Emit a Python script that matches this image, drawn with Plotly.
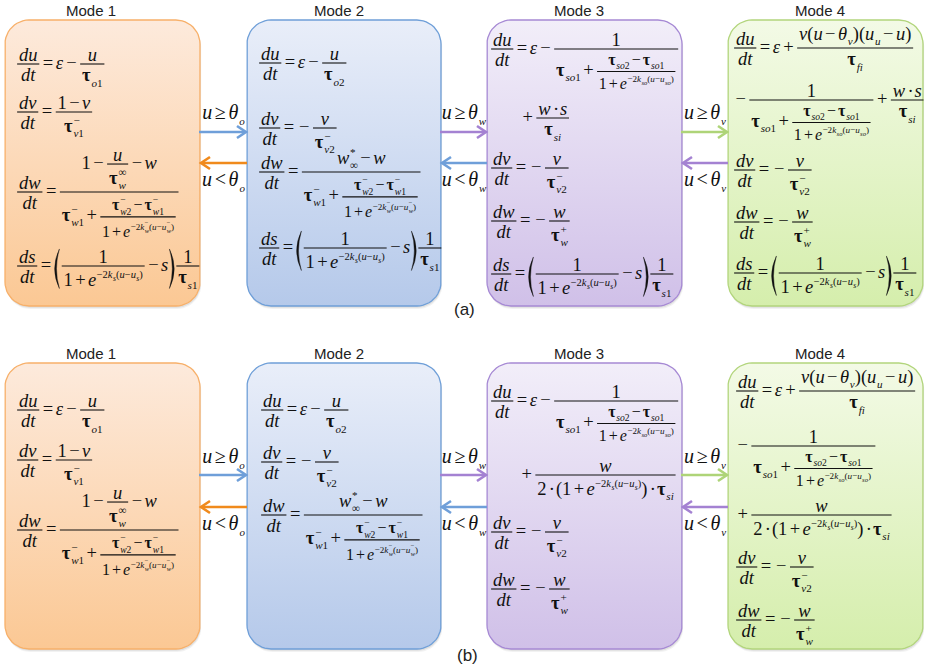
import math
import plotly.graph_objects as go

# ---------------- diagram content ----------------
MODE_TITLES = ["Mode 1", "Mode 2", "Mode 3", "Mode 4"]
TITLE_X = [91, 339, 579, 820]
PANEL_TAGS = ["(a)", "(b)"]
TAG_POS = [(464, 309), (467, 655)]
GUARDS = ["o", "w", "v"]            # threshold subscripts of the transitions 1<->2, 2<->3, 3<->4

BOX_LEFT = [5, 247, 487, 728]
BOX_RIGHT = [200, 441, 682, 923]
PANEL_TOP = [20, 363]
PANEL_BOTTOM = [306, 649]
FILL_TOP = ["#fdeadc", "#e9eef9", "#f2eef9", "#f3fae6"]
FILL_BOTTOM = ["#fbc894", "#b5c9ea", "#d0c0e8", "#d5eeac"]
EDGE = ["#f7b06a", "#6f9fd8", "#a689d4", "#b2d57c"]
ARROW_FWD = ["#6f9fd9", "#a482d2", "#aed478"]
ARROW_BWD = ["#f08a1c", "#6f9fd9", "#a482d2"]
INK = "#111111"

# equations of every mode: (equation key, left x, y of its first fraction bar)
EQ_A = [
    [("du_o1", 16, 64), ("dv_1", 16, 112), ("dw_1", 16, 192), ("ds", 16, 266)],
    [("du_o2", 258, 63), ("dv_2", 258, 128), ("dw_2", 258, 172), ("ds", 258, 248)],
    [("du_3", 490, 49), ("plus_ws", 520, 118), ("dv_2", 490, 168), ("dw_3", 490, 221), ("ds", 490, 274)],
    [("du_4", 733, 48), ("minus_so_ws", 733, 100), ("dv_2", 733, 170), ("dw_3", 733, 222), ("ds", 733, 273)],
]
EQ_B = [
    [("du_o1", 16, 410), ("dv_1", 16, 460), ("dw_1", 16, 530)],
    [("du_o2", 260, 410), ("dv_2", 260, 462), ("dw_2", 260, 515)],
    [("du_3", 490, 401), ("plus_w2", 519, 475), ("dv_2", 490, 532), ("dw_3", 490, 589)],
    [("du_4", 735, 391), ("minus_so", 735, 446), ("plus_w2", 735, 515), ("dv_2", 735, 567), ("dw_3", 735, 620)],
]

# ---------------- small math typesetter ----------------
S, S2 = 18.5, 16.0
AXIS = 0.27
PAD = 0.13
EXP = 0.57

TX, TY, TT, TZ = [], [], [], []
BARS = []
PARENS = []

RM = {' ': .25, '(': .333, ')': .333, '+': .564, '=': .564, '−': .564, '·': .25,
      '<': .564, '≥': .549, '∞': .713, '*': .5, 'τ': .47}
for _d in "0123456789":
    RM[_d] = .5
IT = dict(a=.5, b=.5, c=.444, d=.5, e=.444, f=.278, g=.5, h=.5, i=.278, j=.278, k=.444,
          l=.278, m=.722, n=.5, o=.5, p=.5, q=.5, r=.389, s=.389, t=.278, u=.5, v=.444,
          w=.667, x=.444, y=.444, z=.389)
IT['ε'] = .44
IT['θ'] = .5


def cw(c):
    return IT.get(c, RM.get(c, .5))


def html(s):
    out, run = [], ""
    for c in s:
        if c in IT:
            run += c
            continue
        if run:
            out.append("<i>%s</i>" % run)
            run = ""
        if c == "<":
            out.append("&lt;")
        elif c == "τ":
            out.append("<b>τ</b>")
        else:
            out.append(c)
    if run:
        out.append("<i>%s</i>" % run)
    return "".join(out)


class Txt:
    def __init__(self, s, z, lp=0.0, rp=0.0):
        self.s, self.z, self.lp = s, z, lp
        self.w = lp + rp + z * sum(cw(c) for c in s)
        self.asc, self.desc = .68 * z, .04 * z

    def draw(self, x, b):
        TX.append(x + self.lp)
        TY.append(b - .25 * self.z)
        TT.append(html(self.s))
        TZ.append(self.z)


class Row:
    def __init__(self, *items):
        self.items = items
        self.w = sum(i.w for i in items)
        self.asc = max(i.asc for i in items)
        self.desc = max(i.desc for i in items)

    def draw(self, x, b):
        for it in self.items:
            it.draw(x, b)
            x += it.w


class Frac:
    def __init__(self, num, den, z):
        self.num, self.den = num, den
        self.ext, self.side = .1 * z, .06 * z
        self.bw = max(num.w, den.w) + 2 * self.ext
        self.w = self.bw + 2 * self.side
        self.ax, self.gn, self.gd = AXIS * z, .12 * z, .26 * z
        self.asc = self.ax + self.gn + num.desc + num.asc
        self.desc = self.gd + den.asc + den.desc - self.ax

    def draw(self, x, b):
        y = b - self.ax
        x0 = x + self.side
        BARS.append((x0, x0 + self.bw, y))
        self.num.draw(x0 + (self.bw - self.num.w) / 2, y - self.gn - self.num.desc)
        self.den.draw(x0 + (self.bw - self.den.w) / 2, y + self.gd + self.den.asc)


class Script:
    def __init__(self, base, sub=None, sup=None, dn=.28, up=.42, gap=.04):
        z = base.z
        self.base, self.sub, self.sup = base, sub, sup
        self.dn, self.up, self.g = dn * z, up * z, gap * z
        self.w = base.w + self.g + max(sub.w if sub else 0, sup.w if sup else 0)
        self.asc = max(base.asc, (sup.asc + self.up) if sup else 0)
        self.desc = max(base.desc, (sub.desc + self.dn) if sub else 0)

    def draw(self, x, b):
        self.base.draw(x, b)
        xs = x + self.base.w + self.g
        if self.sub:
            self.sub.draw(xs, b + self.dn)
        if self.sup:
            self.sup.draw(xs, b - self.up)


class Paren:
    def __init__(self, side, asc, desc, w=7.0):
        self.side, self.asc, self.desc, self.w = side, asc, desc, w

    def draw(self, x, b):
        PARENS.append((x, b - self.asc, b + self.desc, self.side, self.w))


def T(s, z=S):
    return Txt(s, z)


def O(s, z=S):
    return Txt(s, z, PAD * z, PAD * z)


def R(*items):
    return Row(*items)


def F(n, d, z=S):
    return Frac(n, d, z)


def D(var):
    return F(T("d" + var), T("dt"))


def tau(sub, z=S, sup=None):
    return Script(T("τ", z), T(sub, .6 * z), T(sup, .6 * z) if sup else None)


def expo(z, key):
    e = EXP * z
    e2 = .72 * e
    minus = key == "w"

    def sc(c):
        return Script(T(c, e), T(key, e2), T("−", e2) if minus else None, dn=.32, up=.48)

    row = R(T("−2", e), sc("k"), T("(u", e), T("−", e), sc("u"), T(")", e))
    return Script(T("e", z), sup=row, up=.45, gap=.02)


def one_plus_e(z, key):
    return R(T("1", z), O("+", z), expo(z, key))


def tau_w_den():
    return R(tau("w1", S, "−"), O("+"),
             F(R(tau("w2", S2, "−"), O("−", S2), tau("w1", S2, "−")), one_plus_e(S2, "w"), S2))


def tau_so_den():
    return R(tau("so1"), O("+"),
             F(R(tau("so2", S2), O("−", S2), tau("so1", S2)), one_plus_e(S2, "so"), S2))


def ds_eq():
    inner = R(F(T("1"), one_plus_e(S, "s")), O("−"), T("s"))
    return R(D("s"), O("="), Paren("(", inner.asc + 1.5, inner.desc + 1.5), inner,
             Paren(")", inner.asc + 1.5, inner.desc + 1.5), F(T("1"), tau("s1")))


def ws_frac():
    return F(R(T("w"), O("·"), T("s")), tau("si"))


def w2_frac():
    return F(T("w"), R(T("2"), O("·"), T("(1"), O("+"), expo(S, "s"), T(")"), O("·"), tau("si")))


BUILD = {
    "du_o1": lambda: R(D("u"), O("="), T("ε"), O("−"), F(T("u"), tau("o1"))),
    "du_o2": lambda: R(D("u"), O("="), T("ε"), O("−"), F(T("u"), tau("o2"))),
    "dv_1": lambda: R(D("v"), O("="), F(R(T("1"), O("−"), T("v")), tau("v1", S, "−"))),
    "dv_2": lambda: R(D("v"), O("="), O("−"), F(T("v"), tau("v2", S, "−"))),
    "dw_1": lambda: R(D("w"), O("="),
                      F(R(T("1"), O("−"), F(T("u"), tau("w", S, "∞")), O("−"), T("w")), tau_w_den())),
    "dw_2": lambda: R(D("w"), O("="),
                      F(R(Script(T("w"), T("∞", .6 * S), T("*", .6 * S)), O("−"), T("w")), tau_w_den())),
    "dw_3": lambda: R(D("w"), O("="), O("−"), F(T("w"), tau("w", S, "+"))),
    "ds": ds_eq,
    "du_3": lambda: R(D("u"), O("="), T("ε"), O("−"), F(T("1"), tau_so_den())),
    "plus_ws": lambda: R(O("+"), ws_frac()),
    "plus_w2": lambda: R(O("+"), w2_frac()),
    "du_4": lambda: R(D("u"), O("="), T("ε"), O("+"),
                      F(R(T("v(u"), O("−"), Script(T("θ"), T("v", .6 * S)), T(")("),
                          Script(T("u"), T("u", .6 * S)), O("−"), T("u)")), tau("fi"))),
    "minus_so_ws": lambda: R(O("−"), F(T("1"), tau_so_den()), O("+"), ws_frac()),
    "minus_so": lambda: R(O("−"), F(T("1"), tau_so_den())),
}


def place(key, x, bar_y):
    BUILD[key]().draw(x, bar_y + AXIS * S)


# ---------------- geometry helpers ----------------
def rrect(x0, y0, x1, y1, r, n=12):
    xs, ys = [], []
    for cx, cy, a0 in [(x1 - r, y0 + r, -90), (x1 - r, y1 - r, 0), (x0 + r, y1 - r, 90), (x0 + r, y0 + r, 180)]:
        for k in range(n + 1):
            a = math.radians(a0 + 90.0 * k / n)
            xs.append(cx + r * math.cos(a))
            ys.append(cy + r * math.sin(a))
    xs.append(xs[0])
    ys.append(ys[0])
    return xs, ys


fig = go.Figure()
shapes = []
annotations = []

for p in range(2):
    y0, y1 = PANEL_TOP[p], PANEL_BOTTOM[p]
    for i in range(4):
        x0, x1 = BOX_LEFT[i], BOX_RIGHT[i]
        for off, alpha in [(3.0, .05), (1.8, .08)]:
            sx, sy = rrect(x0 + off * .4, y0 + off, x1 + off * .4, y1 + off, 24)
            fig.add_trace(go.Scatter(x=sx, y=sy, mode="lines", fill="toself",
                                     fillcolor="rgba(0,0,0,%.2f)" % alpha, line=dict(width=0),
                                     hoverinfo="skip"))
        bx, by = rrect(x0, y0, x1, y1, 24)
        fig.add_trace(go.Scatter(
            x=bx, y=by, mode="lines", fill="toself",
            fillgradient=dict(type="vertical", colorscale=[[0, FILL_TOP[i]], [1, FILL_BOTTOM[i]]],
                              start=y0, stop=y1),
            line=dict(color=EDGE[i], width=1.3), hoverinfo="skip"))
        annotations.append(dict(x=TITLE_X[i], y=y0 - 10, text=MODE_TITLES[i], showarrow=False,
                                xanchor="center", yanchor="middle",
                                font=dict(family="Liberation Sans", size=15, color="#222")))

    # transitions between neighbouring modes
    y_fwd, y_bwd = (132, 163) if p == 0 else (475, 507)
    lab_hi, lab_lo = (119, 186) if p == 0 else (463, 530)
    for g in range(3):
        xa, xb = BOX_RIGHT[g], BOX_LEFT[g + 1]
        for (ys, col, tip, tail) in [(y_fwd, ARROW_FWD[g], xb - 1, xa - 1), (y_bwd, ARROW_BWD[g], xa + 1, xb)]:
            sgn = 1 if tip > tail else -1
            shapes.append(dict(type="path", path="M %.1f,%.1f L %.1f,%.1f" % (tail, ys, tip - sgn, ys),
                               line=dict(color=col, width=2.6), layer="above"))
            shapes.append(dict(type="path",
                               path="M %.1f,%.1f L %.1f,%.1f L %.1f,%.1f" % (
                                   tip - sgn * 9, ys - 6, tip, ys, tip - sgn * 9, ys + 6),
                               line=dict(color=col, width=2.6), layer="above"))
        mid = (xa + xb) / 2
        for op, base in [("≥", lab_hi), ("<", lab_lo)]:
            lz = 20
            lab = R(T("u", lz), O(op, lz), Script(T("θ", lz), T(GUARDS[g], .55 * lz), dn=.32))
            lab.draw(mid - lab.w / 2, base)

    annotations.append(dict(x=TAG_POS[p][0], y=TAG_POS[p][1], text=PANEL_TAGS[p], showarrow=False,
                            xanchor="center", yanchor="middle",
                            font=dict(family="Liberation Sans", size=17, color="#222")))

for col in EQ_A + EQ_B:
    for key, x, by in col:
        place(key, x, by)

# fraction bars
bx, byy = [], []
for x0, x1, y in BARS:
    bx += [x0, x1, None]
    byy += [y, y, None]
fig.add_trace(go.Scatter(x=bx, y=byy, mode="lines", line=dict(color=INK, width=1.1),
                         hoverinfo="skip", cliponaxis=False))

# big parentheses
for x, top, bot, side, w in PARENS:
    ym = (top + bot) / 2
    if side == "(":
        xe, xo, xi = x + w - 1.2, x + 1.0, x + 2.9
    else:
        xe, xo, xi = x + 1.2, x + w - 1.0, x + w - 2.9
    co, ci = 2 * xo - xe, 2 * xi - xe
    shapes.append(dict(type="path",
                       path="M %.2f,%.2f Q %.2f,%.2f %.2f,%.2f Q %.2f,%.2f %.2f,%.2f Z" % (
                           xe, top, co, ym, xe, bot, ci, ym, xe, top),
                       fillcolor=INK, line=dict(color=INK, width=0.4), layer="above"))

fig.add_trace(go.Scatter(x=TX, y=TY, text=TT, mode="text", textposition="middle right",
                         textfont=dict(family="Liberation Serif", size=TZ, color=INK),
                         hoverinfo="skip", cliponaxis=False))

fig.update_layout(
    width=929, height=672, autosize=False,
    margin=dict(l=0, r=0, t=0, b=0),
    paper_bgcolor="white", plot_bgcolor="white",
    showlegend=False,
    xaxis=dict(range=[0, 929], visible=False, fixedrange=True),
    yaxis=dict(range=[672, 0], visible=False, fixedrange=True),
    shapes=shapes, annotations=annotations,
)
fig.write_html("out.html")
